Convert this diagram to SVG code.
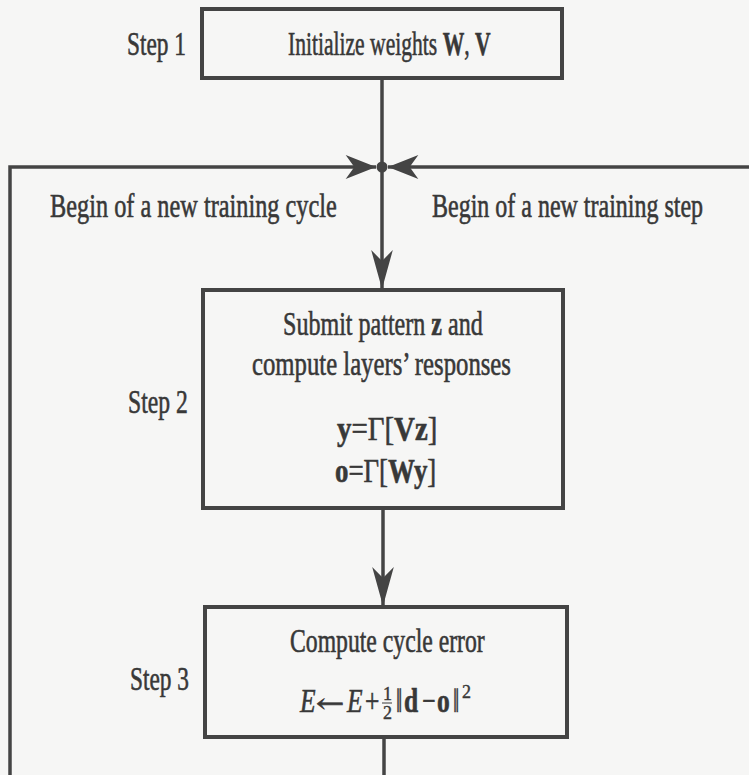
<svg xmlns="http://www.w3.org/2000/svg" width="749" height="775" viewBox="0 0 749 775">
<style>
  .bg{fill:#f6f6f5}
  .box{fill:none;stroke:#444;stroke-width:4}
  .ln{fill:none;stroke:#444;stroke-width:3.5}
  text{font-family:"Liberation Serif","Times New Roman",serif;font-size:34px;fill:#383838;stroke:#383838;stroke-width:0.6}
  .b{font-weight:bold}
  .i{font-style:italic}
  .sm{font-size:18px;stroke-width:0.4}
  .arr{font-family:"DejaVu Serif",serif;font-size:26px}
</style>
<defs>
  <marker id="arrV" markerUnits="userSpaceOnUse" markerWidth="40" markerHeight="24" viewBox="-36 -11 37 22" refX="0" refY="0" orient="auto">
    <path d="M0,0 L-36,-10 L-26,0 L-36,10 Z" fill="#444"/>
  </marker>
  <marker id="arrH" markerUnits="userSpaceOnUse" markerWidth="32" markerHeight="26" viewBox="-28 -12 29 24" refX="0" refY="0" orient="auto">
    <path d="M0,0 L-28,-11 L-20,0 L-28,11 Z" fill="#444"/>
  </marker>
</defs>
<rect class="bg" x="0" y="0" width="749" height="775"/>

<g id="connectors">
  <line class="ln" x1="382" y1="78" x2="382" y2="289" marker-end="url(#arrV)"/>
  <polyline class="ln" points="10,775 10,167 376,167" marker-end="url(#arrH)"/>
  <line class="ln" x1="749" y1="167" x2="388" y2="167" marker-end="url(#arrH)"/>
  <line class="ln" x1="383" y1="508" x2="383" y2="606" marker-end="url(#arrV)"/>
  <line class="ln" x1="384" y1="737" x2="384" y2="775"/>
  <circle cx="382" cy="167" r="5.5" fill="#444"/>
  <text transform="translate(50,217) scale(0.715,1)">Begin of a new training cycle</text>
  <text transform="translate(432,217) scale(0.706,1)">Begin of a new training step</text>
</g>

<g id="step1">
  <text transform="translate(127,55) scale(0.687,1)">Step 1</text>
  <rect class="box" x="202" y="9" width="360" height="69"/>
  <text transform="translate(288,55) scale(0.635,1)">Initialize weights <tspan class="b">W</tspan>, <tspan class="b">V</tspan></text>
</g>

<g id="step2">
  <text transform="translate(128,413) scale(0.696,1)">Step 2</text>
  <rect class="box" x="203" y="290" width="360" height="218"/>
  <text transform="translate(283,335) scale(0.708,1)">Submit pattern <tspan class="b">z</tspan> and</text>
  <text transform="translate(252,375) scale(0.727,1)">compute layers’ responses</text>
  <text transform="translate(337,440) scale(0.85,1)"><tspan class="b">y</tspan>=Γ[<tspan class="b">Vz</tspan>]</text>
  <text transform="translate(335,482) scale(0.79,1)"><tspan class="b">o</tspan>=Γ[<tspan class="b">Wy</tspan>]</text>
</g>

<g id="step3">
  <text transform="translate(130,690) scale(0.687,1)">Step 3</text>
  <rect class="box" x="205" y="607" width="362" height="130"/>
  <text transform="translate(290,652) scale(0.697,1)">Compute cycle error</text>
  <text class="i" transform="translate(300,712) scale(0.75,1)">E</text>
  <text class="arr" transform="translate(316,712) scale(1.3,1)">←</text>
  <text class="i" transform="translate(347,712) scale(0.75,1)">E</text>
  <text transform="translate(365,712) scale(0.75,1)">+</text>
  <text class="sm" x="383" y="700">1</text>
  <line x1="382" y1="703" x2="392" y2="703" stroke="#383838" stroke-width="1"/>
  <text class="sm" x="383" y="719">2</text>
  <text transform="translate(396,712) scale(0.66,1)">‖</text>
  <text class="b" transform="translate(404,712) scale(0.75,1)">d</text>
  <text transform="translate(422,712) scale(0.7,1)">−</text>
  <text class="b" transform="translate(437,712) scale(0.75,1)">o</text>
  <text transform="translate(453,712) scale(0.66,1)">‖</text>
  <text class="sm" x="462" y="698">2</text>
</g>
</svg>
